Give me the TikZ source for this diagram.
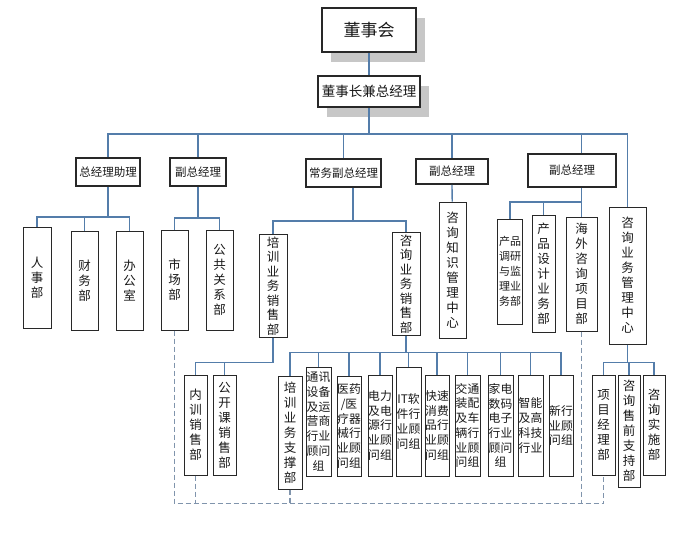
\documentclass[tikz,border=0pt]{standalone}
\usepackage{fontspec}
\setmainfont{Noto Sans CJK SC}
\usetikzlibrary{shadows}

\definecolor{linkblue}{RGB}{84,125,170}
\definecolor{dashblue}{RGB}{128,148,172}
\definecolor{boxline}{RGB}{40,40,40}

\begin{document}
\begin{tikzpicture}[x=1pt, y=-1pt, align=center,
    topbox/.style={draw=boxline, line width=2pt, fill=white, text=black!90, drop shadow={shadow xshift=9pt, shadow yshift=-10pt, fill=black!22, opacity=1}},
    headbox/.style={draw=boxline, line width=1.8pt, fill=white, text=black!90, font=\fontsize{11.5}{13}\selectfont},
    colbox/.style={draw=boxline, line width=1pt, fill=white, text=black!90, inner xsep=0pt, inner ysep=2pt, font=\fontsize{12.5}{15}\selectfont},
    pairbox/.style={colbox, font=\fontsize{11.8}{14.7}\selectfont},
    link/.style={draw=linkblue, line width=1.3pt},
    dashlink/.style={draw=dashblue, line width=1.2pt, dash pattern=on 5pt off 3pt}]

    \useasboundingbox (0,0) rectangle (700,538);

    \node [topbox, minimum width=94pt, minimum height=44pt, font=\fontsize{17}{20}\selectfont] (dsh) at (369,30) {董事会};
    \node [topbox, minimum width=99pt, minimum height=31pt, font=\fontsize{13.5}{16}\selectfont] (dszjl) at (369,91.5) {董事长兼总经理};

    \node [headbox, minimum width=62pt, minimum height=28pt] (zjlzl) at (108,172) {总经理助理};
    \node [headbox, minimum width=56pt, minimum height=28pt] (fz1) at (198,172) {副总经理};
    \node [headbox, minimum width=73pt, minimum height=28pt] (cwfz) at (343.5,173) {常务副总经理};
    \node [headbox, minimum width=72pt, minimum height=25pt] (fz2) at (452,171.5) {副总经理};
    \node [headbox, minimum width=88pt, minimum height=33pt] (fz3) at (572,170.5) {副总经理};

    \node [colbox, minimum width=28pt, minimum height=101pt] (rsb) at (37,277.5) {人\\事\\部};
    \node [colbox, minimum width=27pt, minimum height=99pt] (cwb) at (84.5,280.5) {财\\务\\部};
    \node [colbox, minimum width=27pt, minimum height=99pt] (bgs) at (129.5,280.5) {办\\公\\室};
    \node [colbox, minimum width=27pt, minimum height=100pt] (scb) at (174.5,280) {市\\场\\部};
    \node [colbox, minimum width=27pt, minimum height=100pt] (ggb) at (219.5,280) {公\\共\\关\\系\\部};
    \node [colbox, minimum width=28pt, minimum height=100pt, font=\fontsize{12.5}{14.5}\selectfont] (pxxs) at (273,286) {培\\训\\业\\务\\销\\售\\部};
    \node [colbox, minimum width=28pt, minimum height=102pt, font=\fontsize{12.5}{14.5}\selectfont] (zxxs) at (406,284) {咨\\询\\业\\务\\销\\售\\部};
    \node [colbox, minimum width=27pt, minimum height=136pt] (zszx) at (452.5,270) {咨\\询\\知\\识\\管\\理\\中\\心};
    \node [pairbox, minimum width=24.5pt, minimum height=105pt, font=\fontsize{11}{15}\selectfont] (cpdy) at (510,271.5) {产品\\调研\\与监\\理业\\务部};
    \node [colbox, minimum width=23pt, minimum height=117pt] (cpsj) at (543.5,273.5) {产\\品\\设\\计\\业\\务\\部};
    \node [colbox, minimum width=31pt, minimum height=114pt] (hwxm) at (581.5,274) {海\\外\\咨\\询\\项\\目\\部};
    \node [colbox, minimum width=37pt, minimum height=137pt] (zxgl) at (627.5,275.5) {咨\\询\\业\\务\\管\\理\\中\\心};

    \node [colbox, minimum width=23pt, minimum height=100pt] (nxxs) at (195.5,425) {内\\训\\销\\售\\部};
    \node [colbox, minimum width=23pt, minimum height=100pt] (gkk) at (224.5,425) {公\\开\\课\\销\\售\\部};
    \node [colbox, minimum width=24pt, minimum height=113pt] (pxzc) at (290,432.5) {培\\训\\业\\务\\支\\撑\\部};
    \node [pairbox, minimum width=25pt, minimum height=109pt] (txsb) at (318.5,421.5) {通讯\\设备\\及运\\营商\\行业\\顾问\\组};
    \node [pairbox, minimum width=24pt, minimum height=100pt] (yyyl) at (349,426) {医药\\/医\\疗器\\械行\\业顾\\问组};
    \node [pairbox, minimum width=24pt, minimum height=101pt] (dldy) at (380,425.5) {电力\\及电\\源行\\业顾\\问组};
    \node [pairbox, minimum width=25pt, minimum height=109pt] (itrj) at (408.5,421.5) {IT软\\件行\\业顾\\问组};
    \node [pairbox, minimum width=24pt, minimum height=101pt] (ksxf) at (437,425.5) {快速\\消费\\品行\\业顾\\问组};
    \node [pairbox, minimum width=25pt, minimum height=101pt] (jtzp) at (467.5,425.5) {交通\\装配\\及车\\辆行\\业顾\\问组};
    \node [pairbox, minimum width=25pt, minimum height=101pt] (jdsm) at (500.5,425.5) {家电\\数码\\电子\\行业\\顾问\\组};
    \node [pairbox, minimum width=25pt, minimum height=101pt] (znkj) at (530.5,425.5) {智能\\及高\\科技\\行业};
    \node [pairbox, minimum width=24pt, minimum height=101pt] (xhy) at (561,425.5) {新行\\业顾\\问组};
    \node [colbox, minimum width=23pt, minimum height=100pt] (xmjl) at (603.5,425) {项\\目\\经\\理\\部};
    \node [colbox, minimum width=22pt, minimum height=112pt] (sqzc) at (629,431) {咨\\询\\售\\前\\支\\持\\部};
    \node [colbox, minimum width=22pt, minimum height=100pt] (zxss) at (654,425) {咨\\询\\实\\施\\部};

    \draw[link] (dsh) -- (dszjl);
    \draw[link] (dszjl.south) -- ++(0,26) coordinate (bus);
    \foreach \n in {zjlzl, fz1, cwfz, fz2, zxgl}
        \draw[link] (bus) -| (\n.north);
    \draw[link] (bus) -| (hwxm.north |- fz3.north);

    \draw[link] (zjlzl.south) -- ++(0,30) coordinate (b1);
    \foreach \n in {rsb, cwb, bgs}
        \draw[link] (b1) -| (\n.north);

    \draw[link] (fz1.south) -- ++(0,31) coordinate (b2);
    \foreach \n in {scb, ggb}
        \draw[link] (b2) -| (\n.north);

    \draw[link] ([xshift=9.5pt]cwfz.south) -- ++(0,33) coordinate (b3);
    \foreach \n in {pxxs, zxxs}
        \draw[link] (b3) -| (\n.north);

    \draw[link] (fz2) -- (zszx);

    \draw[link] (hwxm.north |- fz3.south) -- (hwxm.north);
    \path (hwxm.north |- fz3.south) ++(0,14) coordinate (b5);
    \foreach \n in {cpdy, cpsj}
        \draw[link] (b5) -| (\n.north);

    \draw[link] (pxxs.south) -- ++(0,25) coordinate (b6);
    \foreach \n in {nxxs, gkk}
        \draw[link] (b6) -| (\n.north);

    \draw[link] (zxxs.south) -- ++(0,17) coordinate (b7);
    \foreach \n in {pxzc, txsb, yyyl, dldy, itrj, ksxf, jtzp, jdsm, znkj, xhy}
        \draw[link] (b7) -| (\n.north);

    \draw[link] (zxgl.south) -- ++(0,18) coordinate (b8);
    \foreach \n in {xmjl, sqzc, zxss}
        \draw[link] (b8) -| (\n.north);

    \draw[dashlink] (scb.south) -- ++(0,173) coordinate (dl) -| (xmjl.south);
    \foreach \n in {nxxs, pxzc, hwxm}
        \draw[dashlink] (\n.south) -- (\n.south |- dl);
\end{tikzpicture}
\end{document}
